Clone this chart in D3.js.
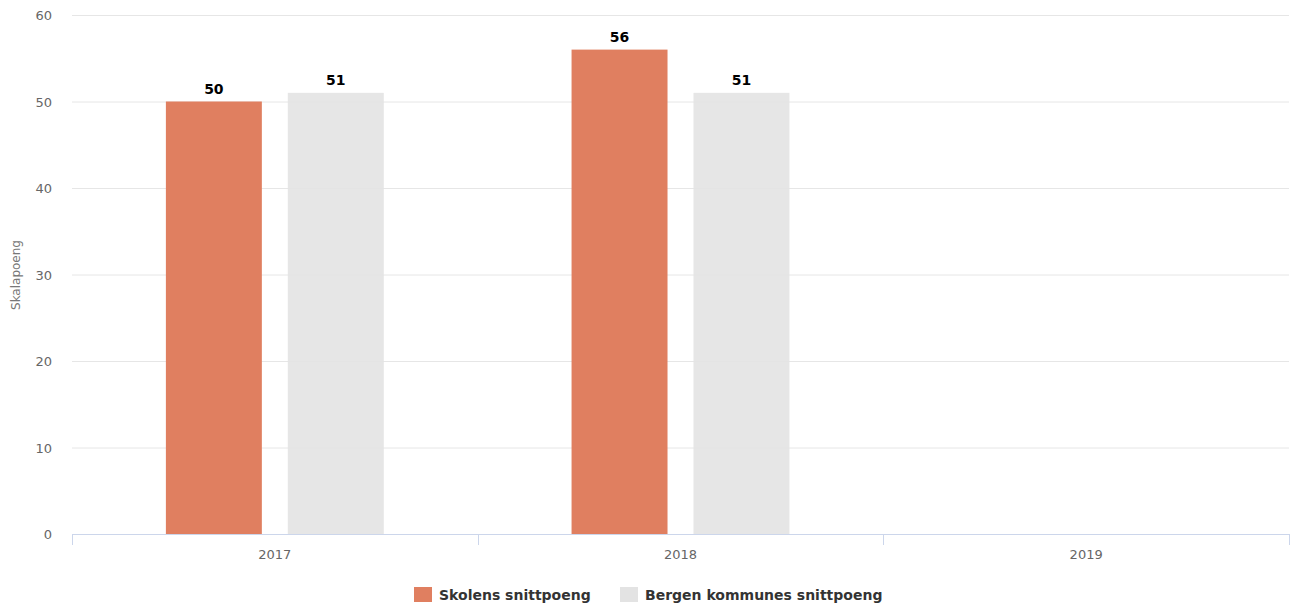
<!DOCTYPE html>
<html><head><meta charset="utf-8">
<script src="https://cdn.jsdelivr.net/npm/d3@7"></script>
<style>body{margin:0;background:#fff;} svg{display:block;}</style>
</head><body>
<svg id="c" width="1292" height="609"></svg>
<script>
const categories = ["2017", "2018", "2019"];
const seriesNames = ["Skolens snittpoeng", "Bergen kommunes snittpoeng"];
const skolen = [50, 56, null];
const bergen = [51, 51, null];
const yTicks = [0, 10, 20, 30, 40, 50, 60];
const colors = ["#E07F60", "#E3E3E3"];

const svg = d3.select("#c");
const font = "'DejaVu Sans', Verdana, sans-serif";
const x = d3.scaleBand().domain(categories).range([72, 1289]).padding(0);
const y = d3.scaleLinear().domain([0, 60]).range([534, 15]);
const inner = d3.scaleBand().domain([0, 1]).range([0, x.bandwidth()]).paddingInner(0.213).paddingOuter(0.77);

// grid
svg.append("g").selectAll("line").data(yTicks.filter(d => d > 0)).join("line")
  .attr("x1", 72).attr("x2", 1289).attr("y1", d => y(d) + 0.5).attr("y2", d => y(d) + 0.5)
  .attr("stroke", "#e6e6e6").attr("stroke-width", 1);

// y labels
svg.append("g").selectAll("text").data(yTicks).join("text")
  .attr("x", 52).attr("y", d => y(d) + 5).attr("text-anchor", "end")
  .attr("font-family", font).attr("font-size", 13).attr("fill", "#666").text(d => d);

svg.append("text").attr("transform", "translate(20,275) rotate(-90)")
  .attr("text-anchor", "middle").attr("font-family", font).attr("font-size", 12)
  .attr("fill", "#777").text("Skalapoeng");

// bars
const series = [skolen, bergen];
series.forEach((vals, si) => {
  const g = svg.append("g");
  const data = categories.map((c, i) => ({c, v: vals[i]})).filter(d => d.v != null);
  g.selectAll("rect").data(data).join("rect")
    .attr("x", d => x(d.c) + inner(si)).attr("width", inner.bandwidth())
    .attr("y", d => y(d.v)).attr("height", d => y(0) - y(d.v))
    .attr("fill", colors[si]).attr("fill-opacity", si === 1 ? 0.9 : 1);
  g.selectAll("text").data(data).join("text")
    .attr("x", d => x(d.c) + inner(si) + inner.bandwidth() / 2)
    .attr("y", d => y(d.v) - 8).attr("text-anchor", "middle")
    .attr("font-family", font).attr("font-size", 14).attr("font-weight", "bold")
    .attr("fill", "#000").text(d => d.v);
});

// x axis
const xa = svg.append("g");
xa.append("line").attr("x1", 72).attr("x2", 1289).attr("y1", 534.5).attr("y2", 534.5)
  .attr("stroke", "#ccd6eb").attr("stroke-width", 1);
const tickPos = categories.map(c => x(c)).concat([x.range()[1]]);
xa.selectAll("line.t").data(tickPos).join("line").attr("class", "t")
  .attr("x1", d => Math.round(d) + 0.5).attr("x2", d => Math.round(d) + 0.5)
  .attr("y1", 534).attr("y2", 545).attr("stroke", "#ccd6eb");
xa.selectAll("text").data(categories).join("text")
  .attr("x", d => x(d) + x.bandwidth() / 2).attr("y", 559).attr("text-anchor", "middle")
  .attr("font-family", font).attr("font-size", 13).attr("fill", "#666").text(d => d);

// legend
const leg = svg.append("g");
const legX = [414, 620];
seriesNames.forEach((n, i) => {
  leg.append("rect").attr("x", legX[i]).attr("y", 587).attr("width", 18).attr("height", 15)
    .attr("fill", colors[i]);
  leg.append("text").attr("x", legX[i] + 25).attr("y", 600)
    .attr("font-family", font).attr("font-size", 14).attr("font-weight", "bold")
    .attr("fill", "#333").text(n);
});
</script>
</body></html>
